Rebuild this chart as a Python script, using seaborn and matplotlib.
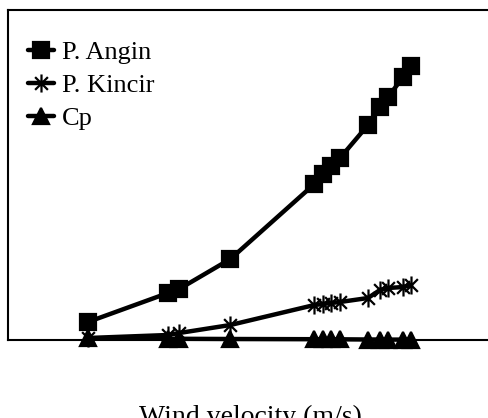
import matplotlib
matplotlib.use("Agg")
import matplotlib.pyplot as plt
from matplotlib.path import Path
import seaborn as sns
import pandas as pd

# Data (arbitrary units)
wind_velocity = [2.0, 3.0, 3.14, 3.78, 4.83, 4.94, 5.04, 5.15, 5.5, 5.65, 5.75, 5.94, 6.04]
p_angin = [1.8, 4.7, 5.1, 8.1, 15.6, 16.6, 17.4, 18.2, 21.5, 23.3, 24.3, 26.3, 27.4]
p_kincir = [0.2, 0.5, 0.7, 1.5, 3.5, 3.6, 3.7, 3.8, 4.2, 5.0, 5.2, 5.3, 5.5]
cp = [0.17, 0.12, 0.12, 0.1, 0.08, 0.08, 0.07, 0.07, 0.05, 0.05, 0.04, 0.04, 0.04]
series_names = ["P. Angin", "P. Kincir", "Cp"]
x_label = "Wind velocity (m/s)"

sns.set_style("white")
plt.rcParams["font.family"] = ["Liberation Serif", "DejaVu Serif"]
plt.rcParams["text.color"] = "black"
plt.rcParams["axes.labelcolor"] = "black"

fig = plt.figure(figsize=(4.88, 4.18), dpi=100)
ax = fig.add_axes([8 / 488, 78 / 418, 484 / 488, 330 / 418])

# Excel-style asterisk: vertical stroke plus an X
d = 0.707
asterisk = Path([(0, -1), (0, 1), (-d, -d), (d, d), (-d, d), (d, -d)],
                [Path.MOVETO, Path.LINETO, Path.MOVETO, Path.LINETO,
                 Path.MOVETO, Path.LINETO])

series_vals = [p_angin, p_kincir, cp]
markers = ["s", asterisk, "^"]
msizes = [11, 13, 11]
for name, vals, mk, ms in zip(series_names, series_vals, markers, msizes):
    sns.lineplot(x=wind_velocity, y=vals, ax=ax, color="black", label=name,
                 marker=mk, markersize=ms, markeredgewidth=1.6,
                 markeredgecolor="black", markerfacecolor="black",
                 linewidth=3.2, sort=False, errorbar=None)
for ln in ax.lines:
    ln.set_clip_on(False)

ax.set_xlim(1.0, 7.05)
ax.set_ylim(0, 33)
ax.set_xticks([])
ax.set_yticks([])
ax.set_ylabel("")
for s in ax.spines.values():
    s.set_visible(True)
    s.set_color("black")
    s.set_linewidth(1.5)

ax.set_xlabel(x_label, fontsize=20, va="top", color="black")
ax.xaxis.set_label_coords(242 / 484, -65 / 330)

leg = ax.legend(loc="upper left", bbox_to_anchor=(20 / 484, 1 - 31 / 330),
                frameon=False, fontsize=19, handlelength=1.0,
                handletextpad=0.3, labelspacing=0.35, borderpad=0,
                borderaxespad=0, labelcolor="black")

fig.savefig("out.png", dpi=100)
